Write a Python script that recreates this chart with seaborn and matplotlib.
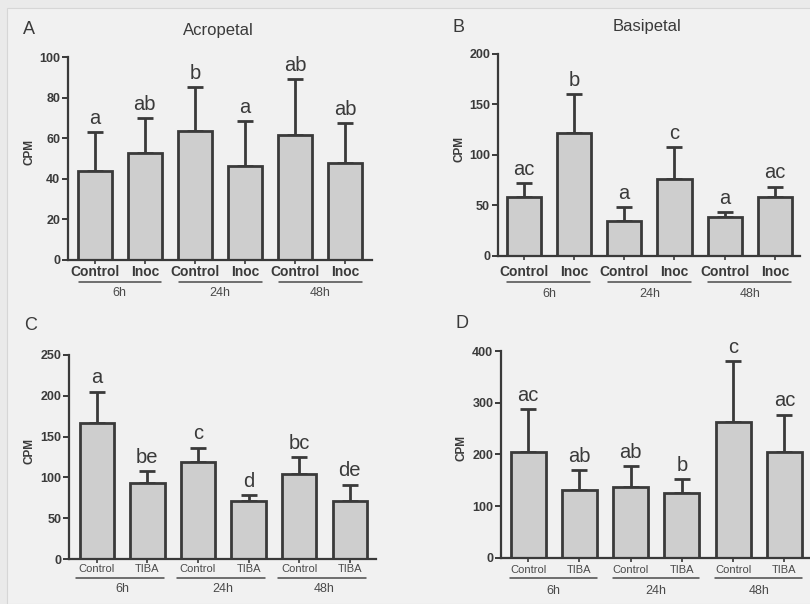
import numpy as np
import pandas as pd
import matplotlib
matplotlib.use("Agg")
import matplotlib.pyplot as plt
import seaborn as sns
from matplotlib.transforms import blended_transform_factory
from matplotlib.patches import Rectangle

# ---- data -------------------------------------------------------------
times = ["6h", "24h", "48h"]

acro_groups = ["Control", "Inoc"]
acro_mean = [44, 52.5, 63.5, 46.5, 61.5, 48]
acro_sd = [19, 17.5, 21.5, 22, 27.5, 19.5]
acro_letters = ["a", "ab", "b", "a", "ab", "ab"]
acro_yticks = [0, 20, 40, 60, 80, 100]

basi_groups = ["Control", "Inoc"]
basi_mean = [58, 121.5, 34.5, 76, 38.5, 58]
basi_sd = [14, 38.5, 14, 32, 5, 10.5]
basi_letters = ["ac", "b", "a", "c", "a", "ac"]
basi_yticks = [0, 50, 100, 150, 200]

tiba_c_groups = ["Control", "TIBA"]
tiba_c_mean = [167, 93, 119.5, 71, 104, 71]
tiba_c_sd = [38, 14.5, 17, 7, 20.5, 20]
tiba_c_letters = ["a", "be", "c", "d", "bc", "de"]
tiba_c_yticks = [0, 50, 100, 150, 200, 250]

tiba_d_groups = ["Control", "TIBA"]
tiba_d_mean = [205, 131.5, 137, 125, 262.5, 205]
tiba_d_sd = [83, 37.5, 40.5, 26.5, 117.5, 72]
tiba_d_letters = ["ac", "ab", "ab", "b", "c", "ac"]
tiba_d_yticks = [0, 100, 200, 300, 400]

# ---- style ------------------------------------------------------------
W, H = 810, 604
BG = "#eaeaea"
FILL = "#cecece"
EDGE = "#3a3a3a"
TEXT = "#3a3a3a"

sns.set_style("white")
plt.rcParams["font.family"] = ["Liberation Sans", "DejaVu Sans"]

fig = plt.figure(figsize=(W / 100, H / 100), dpi=100, facecolor=BG)
fig.patches.append(Rectangle((7 / W, 0), 1, 1 - 8 / H, transform=fig.transFigure,
                             facecolor="#f1f1f1", edgecolor="#d6d6d6",
                             linewidth=0.8, zorder=-10))


def fy(py):
    return 1 - py / H


def panel(rect, xlim, groups, means, sds, letters, yticks, small,
          tick_y, line_y, time_y, line_span):
    ax = fig.add_axes(rect)
    ax.set_facecolor("none")
    bars = [f"{g} {t}" for t in times for g in groups]
    df = pd.DataFrame({"bar": bars, "CPM": means})
    sns.barplot(data=df, x="bar", y="CPM", order=bars, color=FILL,
                saturation=1, edgecolor=EDGE, linewidth=2.0, width=0.68,
                errorbar=None, ax=ax, zorder=2)
    pos = np.arange(len(bars))
    ax.errorbar(pos, means, yerr=[np.zeros(len(bars)), sds], fmt="none",
                ecolor=EDGE, elinewidth=2.0, capsize=6, capthick=2.0, zorder=1)
    for i, (m, s, lab) in enumerate(zip(means, sds, letters)):
        ax.annotate(lab, (i, m + s), xytext=(0, 6), textcoords="offset points",
                    ha="center", va="baseline", fontsize=14.5, color=TEXT)

    ax.set_xlim(*xlim)
    ax.set_ylim(yticks[0], yticks[-1])
    ax.set_yticks(yticks)
    ax.set_yticklabels([str(t) for t in yticks], fontsize=9,
                       fontweight="bold", color=TEXT)
    ax.set_xlabel("")
    ax.set_ylabel("")
    ax.text(-0.128, 0.53, "CPM", transform=ax.transAxes, rotation=90,
            ha="center", va="center", fontsize=8.5, fontweight="bold",
            color=TEXT)
    for side in ("top", "right"):
        ax.spines[side].set_visible(False)
    for side in ("left", "bottom"):
        ax.spines[side].set_linewidth(1.6)
        ax.spines[side].set_color(EDGE)
    ax.tick_params(axis="y", length=4, width=1.4, color=EDGE, pad=1.5,
                   left=True)
    ax.tick_params(axis="x", length=3, width=1.2, color=EDGE, bottom=True,
                   labelbottom=False)

    tr = blended_transform_factory(ax.transData, fig.transFigure)
    for i, name in enumerate(groups * len(times)):
        if small:
            ax.text(i, fy(tick_y), name, transform=tr, ha="center",
                    va="center", fontsize=8, color="#4a4a4a")
        else:
            ax.text(i, fy(tick_y), name, transform=tr, ha="center",
                    va="center", fontsize=10, fontweight="bold", color=TEXT)
    for k, t in enumerate(times):
        a, b = 2 * k, 2 * k + 1
        ax.plot([a + line_span[0], b + line_span[1]], [fy(line_y)] * 2,
                transform=tr, color="#4a4a4a", linewidth=1.1, clip_on=False)
        ax.text((a + b) / 2, fy(time_y), t, transform=tr, ha="center",
                va="center", fontsize=9, color="#4a4a4a")
    return ax


panel([68 / W, fy(260), 304 / W, 203 / H], (-0.53, 5.53), acro_groups,
      acro_mean, acro_sd, acro_letters, acro_yticks, False,
      272, 282, 293, (-0.32, 0.33))
panel([497.7 / W, fy(256), 302.3 / W, 202 / H], (-0.52, 5.5), basi_groups,
      basi_mean, basi_sd, basi_letters, basi_yticks, False,
      272, 282, 294, (-0.33, 0.32))
panel([69 / W, fy(559.3), 307 / W, 204.6 / H], (-0.55, 5.52), tiba_c_groups,
      tiba_c_mean, tiba_c_sd, tiba_c_letters, tiba_c_yticks, True,
      569, 578, 589, (-0.42, 0.32))
panel([501 / W, fy(557.7), 309 / W, 206.7 / H], (-0.53, 5.5), tiba_d_groups,
      tiba_d_mean, tiba_d_sd, tiba_d_letters, tiba_d_yticks, True,
      570, 578, 591, (-0.35, 0.34))

# panel letters and titles
for (px, py), lab in zip([(29, 30), (458, 28), (31, 326), (462, 324)],
                         ["A", "B", "C", "D"]):
    fig.text(px / W, fy(py), lab, ha="center", va="center", fontsize=13,
             color=TEXT)
fig.text(218 / W, fy(31), "Acropetal", ha="center", va="center",
         fontsize=12, color=TEXT)
fig.text(647 / W, fy(27), "Basipetal", ha="center", va="center",
         fontsize=12, color=TEXT)

fig.savefig("out.png", dpi=100, facecolor=BG)
